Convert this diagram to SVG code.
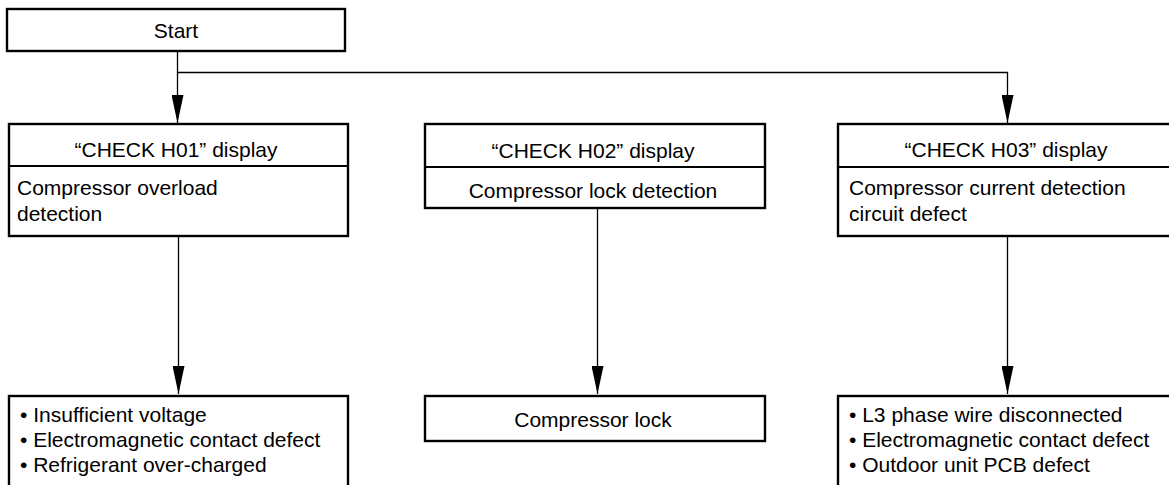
<svg xmlns="http://www.w3.org/2000/svg" width="1169" height="485" viewBox="0 0 1169 485">
<style>
.box{fill:#fff;stroke:#000;stroke-width:2.4}
.div{stroke:#000;stroke-width:2.2}
.ln{fill:none;stroke:#000;stroke-width:1.3}
text{font-family:"Liberation Sans",Arial,sans-serif;font-size:21px;fill:#000}
.c{text-anchor:middle}
</style>
<defs>
<marker id="ah" markerUnits="userSpaceOnUse" markerWidth="28" markerHeight="12" refX="28" refY="6" orient="auto" viewBox="0 0 28 12">
<path d="M0,0 L28,6 L0,12 Z" fill="#000"/>
</marker>
</defs>
<rect width="1169" height="485" fill="#fff"/>
<g id="connectors">
<path class="ln" d="M177.5,52 V95"/>
<path class="ln" d="M177.5,95 V123" marker-end="url(#ah)"/>
<path class="ln" d="M177.5,72.5 H1007.5 V95"/>
<path class="ln" d="M1007.5,95 V123" marker-end="url(#ah)"/>
<path class="ln" d="M178.5,237 V394" marker-end="url(#ah)"/>
<path class="ln" d="M597.5,208 V394" marker-end="url(#ah)"/>
<path class="ln" d="M1007.5,237 V394" marker-end="url(#ah)"/>
</g>
<g id="start">
<rect class="box" x="7" y="9" width="338" height="42"/>
<text class="c" x="176" y="38">Start</text>
</g>
<g id="h01">
<rect class="box" x="9" y="124" width="339" height="112"/>
<line class="div" x1="9" y1="166" x2="348" y2="166"/>
<text class="c" x="176" y="157">“CHECK H01” display</text>
<text x="17" y="195">Compressor overload</text>
<text x="17" y="221">detection</text>
</g>
<g id="h02">
<rect class="box" x="425" y="124" width="340" height="84"/>
<line class="div" x1="425" y1="167" x2="765" y2="167"/>
<text class="c" x="593" y="158">“CHECK H02” display</text>
<text class="c" x="593" y="198">Compressor lock detection</text>
</g>
<g id="h03">
<rect class="box" x="838" y="124" width="340" height="112"/>
<line class="div" x1="838" y1="167" x2="1178" y2="167"/>
<text class="c" x="1006" y="157">“CHECK H03” display</text>
<text x="849" y="195">Compressor current detection</text>
<text x="849" y="221">circuit defect</text>
</g>
<g id="causes1">
<rect class="box" x="9" y="396" width="339" height="100"/>
<text x="20" y="422">• Insufficient voltage</text>
<text x="20" y="447">• Electromagnetic contact defect</text>
<text x="20" y="472">• Refrigerant over-charged</text>
</g>
<g id="causes2">
<rect class="box" x="425" y="396" width="340" height="45"/>
<text class="c" x="593" y="427">Compressor lock</text>
</g>
<g id="causes3">
<rect class="box" x="838" y="396" width="340" height="100"/>
<text x="849" y="422">• L3 phase wire disconnected</text>
<text x="849" y="447">• Electromagnetic contact defect</text>
<text x="849" y="472">• Outdoor unit PCB defect</text>
</g>
</svg>
